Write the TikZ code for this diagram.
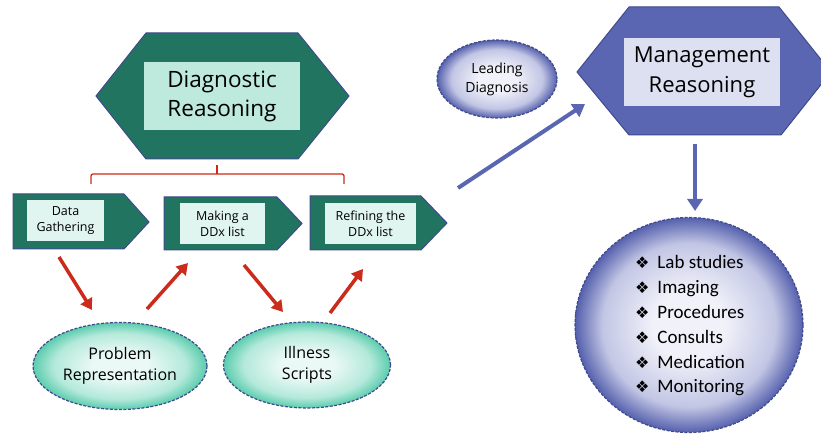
\documentclass[tikz,border=0pt]{standalone}
\usepackage{fontspec}
\setmainfont{Open Sans}
\newfontfamily\listfont{Carlito}
\newfontfamily\symfont{DejaVu Sans}
\usetikzlibrary{arrows.meta,shapes.geometric}

\definecolor{dxgreen}{HTML}{217560}
\definecolor{dxmint}{HTML}{BEEADD}
\definecolor{dxpale}{HTML}{E0F5EF}
\definecolor{edgeblue}{HTML}{3E4A8C}
\definecolor{mgblue}{HTML}{5A66B2}
\definecolor{mgpale}{HTML}{DDE0F0}
\definecolor{arrred}{HTML}{CC2A1B}
\definecolor{tealin}{HTML}{EAF9F5}
\definecolor{tealmid}{HTML}{B4E9DA}
\definecolor{tealout}{HTML}{5ACCAD}
\definecolor{lavin}{HTML}{F0F1F9}
\definecolor{lavmid}{HTML}{C2C6E4}
\definecolor{lavout}{HTML}{5560AD}

\pgfdeclareradialshading{tealglow}{\pgfpoint{0bp}{0bp}}{color(0bp)=(tealin); color(8bp)=(tealin); color(19bp)=(tealmid); color(25bp)=(tealout); color(50bp)=(tealout)}
\pgfdeclareradialshading{lavglow}{\pgfpoint{0bp}{0bp}}{color(0bp)=(lavin); color(8bp)=(lavin); color(19bp)=(lavmid); color(25bp)=(lavout); color(50bp)=(lavout)}

\tikzset{
  hexbox/.style={draw=edgeblue, line width=1pt, line join=miter},
  labelbox/.style={inner sep=0pt, align=center},
  steplabel/.style={labelbox, fill=dxpale, minimum height=41pt, font=\fontsize{12.5}{16}\selectfont},
  redarrow/.style={draw=arrred, line width=3.5pt, -{Triangle[length=11pt,width=13pt]}},
  bluearrow/.style={draw=mgblue, line width=4pt, -{Triangle[length=12pt,width=15pt]}},
  tealblob/.style={ellipse, draw=edgeblue, dash pattern=on 3pt off 1.5pt, line width=1.2pt,
    shading=tealglow, align=center, font=\fontsize{16}{21}\selectfont},
  lavblob/.style={ellipse, draw=edgeblue, dash pattern=on 3pt off 1.5pt, line width=1.2pt,
    shading=lavglow, align=center}
}
\newcommand{\planitem}{{\symfont\fontsize{16}{16}\selectfont ❖}\hspace{8pt}}

\begin{document}
\begin{tikzpicture}[x=1pt,y=-1pt]
    \clip (0,0) rectangle (821,435);
    \fill[white] (0,0) rectangle (821,435);
    % diagnostic reasoning
    \filldraw[hexbox, fill=dxgreen] (96,96) -- (146,33) -- (298,33) -- (349,96) -- (298,159) -- (146,159) -- cycle;
    \node[labelbox, fill=dxmint, minimum width=156pt, minimum height=68pt, font=\fontsize{22.5}{29}\selectfont] (diag) at (222,96) {Diagnostic\\Reasoning};
    \draw[arrred, line width=1.3pt, rounded corners=2pt] (91,184) -- (91,174) -- (344,174) -- (344,184);
    \draw[arrred, line width=1.3pt] (217,174) -- (217,165);
    % steps
    \filldraw[hexbox, fill=dxgreen] (13,194) -- (124,194) -- (149,222) -- (124,249) -- (13,249) -- cycle;
    \node[steplabel, minimum width=77pt] (gather) at (65.5,221) {Data\\Gathering};
    \filldraw[hexbox, fill=dxgreen] (164,197) -- (277,197) -- (302,223.5) -- (277,250) -- (164,250) -- cycle;
    \node[steplabel, minimum width=85pt] (ddx) at (222.5,223.5) {Making a\\DDx list};
    \filldraw[hexbox, fill=dxgreen] (310,196) -- (421,196) -- (447,223) -- (421,250) -- (310,250) -- cycle;
    \node[steplabel, minimum width=91pt] (refine) at (370.5,223.5) {Refining the\\DDx list};
    % ellipses
    \node[tealblob, minimum width=174pt, minimum height=87pt] (problem) at (120,366) {Problem\\Representation};
    \node[tealblob, minimum width=167pt, minimum height=86pt] (scripts) at (307,365) {Illness\\Scripts};
    \coordinate (gather-out) at (59,257);
    \coordinate (problem-in) at (92,310);
    \coordinate (problem-out) at (147,309);
    \coordinate (ddx-in) at (188,263);
    \coordinate (ddx-out) at (244,265);
    \coordinate (scripts-in) at (283,312);
    \coordinate (scripts-out) at (330,313);
    \coordinate (refine-in) at (363,269);
    \draw[redarrow] (gather-out) -- (problem-in);
    \draw[redarrow] (problem-out) -- (ddx-in);
    \draw[redarrow] (ddx-out) -- (scripts-in);
    \draw[redarrow] (scripts-out) -- (refine-in);
    % management reasoning
    \node[lavblob, minimum width=120pt, minimum height=78pt, font=\fontsize{14}{19}\selectfont] (leading) at (497,79) {Leading\\Diagnosis};
    \filldraw[hexbox, fill=mgblue] (577,72) -- (629,7) -- (779,7) -- (831,72) -- (781,135) -- (629,135) -- cycle;
    \node[labelbox, fill=mgpale, minimum width=156pt, minimum height=68pt, font=\fontsize{22}{30}\selectfont] (mgmt) at (702,72) {Management\\Reasoning};
    \coordinate (refine-out) at (458,188);
    \coordinate (mgmt-in) at (585,104);
    \draw[bluearrow] (refine-out) -- (mgmt-in);
    \coordinate (mgmt-out) at (695,144);
    \coordinate (plan-in) at (695,211);
    \draw[bluearrow] (mgmt-out) -- (plan-in);
    \node[lavblob, minimum width=228pt, minimum height=215pt] (plan) at (689,325) {};
    \node[align=left, font=\listfont\fontsize{19}{24.8}\selectfont] (items) at (690,326)
      {\planitem Lab studies\\
       \planitem Imaging\\
       \planitem Procedures\\
       \planitem Consults\\
       \planitem Medication\\
       \planitem Monitoring};
\end{tikzpicture}
\end{document}
